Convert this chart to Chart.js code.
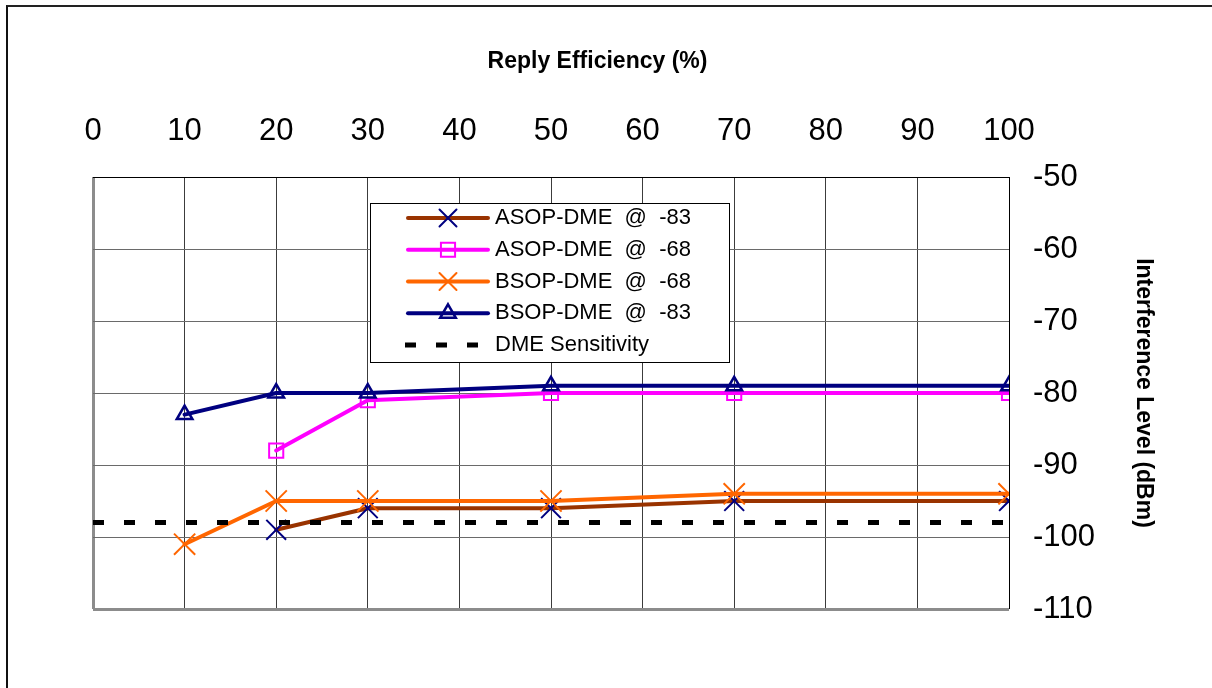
<!DOCTYPE html>
<html>
<head>
<meta charset="utf-8">
<title>Reply Efficiency vs Interference Level</title>
<script src="https://cdn.jsdelivr.net/npm/chart.js@4.4.1/dist/chart.umd.min.js"></script>
<style>
  html, body { margin: 0; padding: 0; background: #fff; overflow: hidden; }
  #frame { position: absolute; left: 6px; top: 5px; width: 1300px; height: 800px; border-top: 2px solid #222; border-left: 2px solid #111; }
  #wrap { position: absolute; left: 0; top: 0; width: 1212px; height: 688px; }
</style>
</head>
<body>
<div id="frame"></div>
<div id="wrap"><canvas id="chart"></canvas></div>
<script>
// Reply efficiency (%) where each series was measured
const effA = [20, 30, 50, 70, 100]
const effB = [10, 20, 30, 50, 70, 100]
const effSens = [0, 100]

// Interference level (dBm)
const asop83 = [-99, -96, -96, -95, -95]
const asop68 = [-88, -81, -80, -80, -80]
const bsop68 = [-101, -95, -95, -95, -94, -94]
const bsop83 = [-83, -80, -80, -79, -79, -79]
const sensitivity = [-98, -98]

const seriesNames = ['ASOP-DME  @  -83', 'ASOP-DME  @  -68', 'BSOP-DME  @  -68', 'BSOP-DME  @  -83', 'DME Sensitivity']

// axis ranges and tick step
const xMin = 0, xMax = 100
const yMin = -110, yMax = -50
const tickStep = 10

const pts = (xs, ys) => xs.map((x, i) => ({ x: x, y: ys[i] }))

Chart.defaults.font.family = '"Liberation Sans", Arial, sans-serif'
Chart.defaults.color = '#000'

// legend drawn inside the plot, like the Excel original (line sample + marker)
const legendBox = {
  id: 'legendBox',
  afterDatasetsDraw(chart) {
    const ctx = chart.ctx
    const left = 370, top = 203, width = 359, height = 159
    const rowTop = 218, rowStep = 31.75
    ctx.save()
    ctx.fillStyle = '#fff'
    ctx.fillRect(left, top, width, height)
    ctx.strokeStyle = '#000'
    ctx.lineWidth = 1
    ctx.strokeRect(left + 0.5, top + 0.5, width, height)
    chart.data.datasets.forEach((ds, i) => {
      const y = rowTop + i * rowStep
      ctx.setLineDash(ds.borderDash || [])
      ctx.lineCap = ds.borderDash ? 'butt' : 'round'
      ctx.strokeStyle = ds.borderColor
      ctx.lineWidth = ds.borderWidth
      ctx.beginPath()
      ctx.moveTo(ds.borderDash ? 405 : 408, y)
      ctx.lineTo(ds.borderDash ? 490 : 488, y)
      ctx.stroke()
      ctx.setLineDash([])
      if (ds.pointRadius > 0) {
        ctx.strokeStyle = ds.pointBorderColor
        ctx.fillStyle = 'rgba(0,0,0,0)'
        ctx.lineWidth = ds.pointBorderWidth
        Chart.helpers.drawPoint(ctx, {
          pointStyle: ds.pointStyle,
          radius: Math.min(ds.pointRadius, 12),
          rotation: 0,
          borderWidth: ds.pointBorderWidth
        }, 448, y)
      }
      ctx.fillStyle = '#000'
      ctx.font = '22px "Liberation Sans", Arial, sans-serif'
      ctx.textBaseline = 'middle'
      ctx.textAlign = 'left'
      ctx.fillText(ds.label, 495, y)
    })
    ctx.restore()
  }
}

const lineDefaults = {
  borderWidth: 4,
  fill: false,
  tension: 0,
  borderCapStyle: 'round',
  borderJoinStyle: 'round',
  pointBackgroundColor: 'rgba(0,0,0,0)',
  pointBorderWidth: 2
}

const ctx = document.getElementById('chart')

new Chart(ctx, {
  type: 'line',
  data: {
    datasets: [
      { ...lineDefaults, label: seriesNames[0], data: pts(effA, asop83), borderColor: '#993300', pointStyle: 'crossRot', pointRadius: 14, pointHoverRadius: 14, pointBorderColor: '#000080', order: 5 },
      { ...lineDefaults, label: seriesNames[1], data: pts(effA, asop68), borderColor: '#ff00ff', pointStyle: 'rect', pointRadius: 10, pointHoverRadius: 10, pointBorderColor: '#ff00ff', order: 4 },
      { ...lineDefaults, label: seriesNames[2], data: pts(effB, bsop68), borderColor: '#ff6600', pointStyle: 'crossRot', pointRadius: 15, pointHoverRadius: 15, pointBorderColor: '#ff6600', order: 3 },
      { ...lineDefaults, label: seriesNames[3], data: pts(effB, bsop83), borderColor: '#000080', pointStyle: 'triangle', pointRadius: 9, pointHoverRadius: 9, pointBorderColor: '#000080', pointBorderWidth: 2.5, order: 2 },
      { ...lineDefaults, label: seriesNames[4], data: pts(effSens, sensitivity), borderColor: '#000', borderWidth: 5, borderDash: [11, 20], borderCapStyle: 'butt', pointRadius: 0, pointHoverRadius: 0, order: 1 }
    ]
  },
  options: {
    responsive: true,
    maintainAspectRatio: false,
    animation: false,
    layout: { padding: { left: 93, top: 48, right: 110, bottom: 79 } },
    plugins: {
      legend: { display: false },
      tooltip: { enabled: false },
      title: {
        display: true,
        text: 'Reply Efficiency (%)',
        color: '#000',
        font: { size: 23, weight: 'bold' },
        padding: 0
      }
    },
    scales: {
      x: {
        type: 'linear',
        position: 'top',
        min: xMin,
        max: xMax,
        afterFit: scale => { scale.height = 101.4 },
        ticks: { stepSize: tickStep, autoSkip: false, maxRotation: 0, padding: 27, font: { size: 31 } },
        grid: {
          drawTicks: false,
          color: c => c.tick.value === xMin ? '#8c8c8c' : (c.tick.value === xMax ? '#000' : '#3c3c3c'),
          lineWidth: c => c.tick.value === xMin ? 3 : 1
        },
        border: { display: false }
      },
      y: {
        type: 'linear',
        position: 'right',
        min: yMin,
        max: yMax,
        afterFit: scale => { scale.width = 93 },
        ticks: { stepSize: tickStep, padding: 24, font: { size: 31 } },
        grid: {
          drawTicks: false,
          color: c => c.tick.value === yMin ? '#8c8c8c' : (c.tick.value === yMax ? '#000' : '#6a6a6a'),
          lineWidth: c => c.tick.value === yMin ? 3 : 1
        },
        border: { display: false },
        title: {
          display: true,
          text: 'Interference Level (dBm)',
          font: { size: 23, weight: 'bold' },
          padding: { top: -55, bottom: 0 }
        }
      }
    }
  },
  plugins: [legendBox]
})
</script>
</body>
</html>
